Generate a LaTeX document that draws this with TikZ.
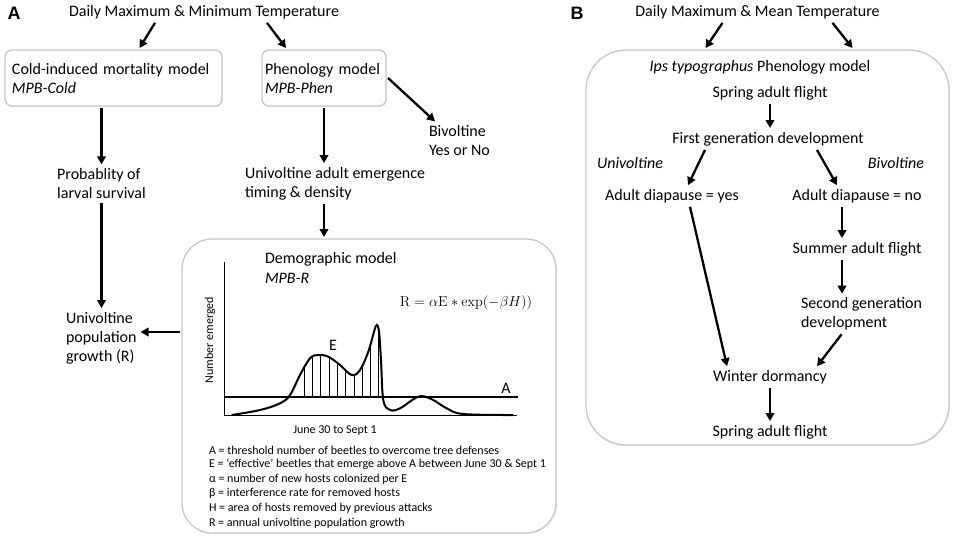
\documentclass[tikz,border=0pt]{standalone}
\usepackage[no-math]{fontspec}
\setmainfont{Carlito}
\newfontfamily\tagfont{Liberation Sans}
\usetikzlibrary{arrows.meta,shadows}

\tikzset{
  arr/.style={line width=2.3pt,-{Triangle[length=8pt,width=8.5pt]}},
  mbox/.style={draw=black!22,line width=1.3pt,fill=white,rounded corners=7pt,
    minimum height=56pt,align=left,outer sep=2pt,
    font=\fontsize{16}{19}\selectfont,
    drop shadow={opacity=0.15,shadow xshift=1pt,shadow yshift=-1pt}},
  txt/.style={inner sep=0pt,outer sep=4pt,font=\fontsize{16}{19}\selectfont},
  legtxt/.style={inner sep=0pt,outer sep=2pt,font=\fontsize{12}{14.6}\selectfont},
  paneltag/.style={inner sep=0pt,font=\tagfont\bfseries\fontsize{18}{18}\selectfont},
}

\begin{document}
\begin{tikzpicture}[x=1pt,y=-1pt]
\useasboundingbox (0,0) rectangle (957,542);

% panel A
\node[paneltag] (tagA) at (14,13) {A};
\node[txt] (tA) at (204,12) {Daily Maximum \& Minimum Temperature};
\node[mbox,minimum width=217pt,text width=203pt] (cold) at (113.5,78) {Cold-induced mortality model\\\textit{MPB-Cold}};
\node[mbox,minimum width=124pt,text width=118pt,inner xsep=3pt] (phen) at (324,78) {Phenology model\\\textit{MPB-Phen}};
\node[txt,anchor=west,align=left] (biv) at (425,140.5) {Bivoltine\\Yes or No};
\node[txt,align=left] (surv) at (101.5,183.5) {Probablity of\\larval survival};
\node[txt,anchor=west,align=left] (emer) at (241,183.5) {Univoltine adult emergence\\timing \& density};
\node[txt,anchor=west,align=left] (growth) at (62,338) {Univoltine\\population\\growth (R)};
\node[mbox,rounded corners=30pt,minimum width=374pt,minimum height=294pt] (demo) at (369,386) {};

\node[txt,anchor=west] (dtitle) at (261,259) {Demographic model};
\node[txt,anchor=west] (dname) at (261,278) {\textit{MPB-R}};
\node[txt,font=\fontsize{15}{18}\selectfont] (rform) at (466,303) {$\mathrm{R}=\alpha\mathrm{E}\ast\exp(-\beta H))$};

% emergence curve
\draw[line width=0.8pt] (224,262) -- (224,415) -- (517,415);
\draw[line width=1.6pt] (224,397) -- (518,397);
\begin{scope}
  \clip plot[smooth,tension=0.6] coordinates {(231.7,415) (260,410) (280,403.3) (290,395) (300,375) (310,358.3) (318.3,355) (328.3,356.7) (340,365) (351.7,375) (360,370) (368.3,351.7) (374,331.7) (376.7,325) (379,331.7) (381,360) (383.3,400) (390,410) (400,408.3) (413.3,399.3) (421.7,396) (433.3,400) (446.7,408.3) (463.3,414) (513.3,415)} -- (513,430) -- (232,430) -- cycle;
  \foreach \x in {304,312.3,...,379}
    \draw[line width=0.5pt] (\x,397) -- (\x,300);
\end{scope}
\draw[line width=2pt] plot[smooth,tension=0.6] coordinates {(231.7,415) (260,410) (280,403.3) (290,395) (300,375) (310,358.3) (318.3,355) (328.3,356.7) (340,365) (351.7,375) (360,370) (368.3,351.7) (374,331.7) (376.7,325) (379,331.7) (381,360) (383.3,400) (390,410) (400,408.3) (413.3,399.3) (421.7,396) (433.3,400) (446.7,408.3) (463.3,414) (513.3,415)};
\node[legtxt,rotate=90] (ylab) at (210,340) {Number emerged};
\node[legtxt] (xlab) at (335,431) {June 30 to Sept 1};
\node[txt] (labE) at (333,345) {E};
\node[txt] (labA) at (506,388) {A};

\foreach \t [count=\i] in {A = threshold number of beetles to overcome tree defenses,
    E = ‘effective’ beetles that emerge above A between June 30 \& Sept 1,
    α = number of new hosts colonized per E,
    β = interference rate for removed hosts,
    H = area of hosts removed by previous attacks,
    R = annual univoltine population growth}
  \node[legtxt,anchor=west] (leg\i) at (207,{435.4+14.6*\i}) {\t};

\draw[arr] ([xshift=-49pt]tA.south) -- ([xshift=26pt]cold.north);
\draw[arr] ([xshift=63pt]tA.south) -- ([xshift=-38pt]phen.north);
\draw[arr] (phen.east) -- ([xshift=10pt]biv.north west);
\draw[arr] (cold.south -| surv.north) -- (surv.north);
\draw[arr] (phen.south) -- (phen.south |- emer.north);
\draw[arr] (surv.south) -- (surv.south |- growth.north);
\draw[arr] (emer.south -| phen.south) -- (demo.north -| phen.south);
\draw[arr] ([yshift=6pt]growth.east -| demo.west) -- ([yshift=6pt]growth.east);

% panel B
\node[paneltag] (tagB) at (577,13) {B};
\node[txt] (tB) at (757.5,12) {Daily Maximum \& Mean Temperature};
\node[mbox,rounded corners=40pt,minimum width=363pt,minimum height=395pt] (ips) at (767.5,247.5) {};
\node[txt] (ptitle) at (760,67) {\textit{Ips typographus} Phenology model};
\node[txt] (spr1) at (770,93) {Spring adult flight};
\node[txt] (gen1) at (768,139) {First generation development};
\node[txt,anchor=west] (uni) at (593,163) {\textit{Univoltine}};
\node[txt,anchor=east] (bi) at (928,163) {\textit{Bivoltine}};
\node[txt] (dyes) at (672,196) {Adult diapause = yes};
\node[txt] (dno) at (857,196) {Adult diapause = no};
\node[txt] (summ) at (857,249) {Summer adult flight};
\node[txt,anchor=west,align=left] (gen2) at (797,314) {Second generation\\development};
\node[txt] (wint) at (770,377) {Winter dormancy};
\node[txt] (spr2) at (770,432) {Spring adult flight};

\draw[arr] ([xshift=-35pt]tB.south) -- ([xshift=-62pt]ips.north);
\draw[arr] ([xshift=75pt]tB.south) -- ([xshift=85pt]ips.north);
\draw[arr] (spr1.south) -- (spr1.south |- gen1.north);
\draw[arr] ([xshift=-63pt]gen1.south) -- ([xshift=16pt]dyes.north);
\draw[arr] ([xshift=49pt]gen1.south) -- ([xshift=-20pt]dno.north);
\draw[arr] ([xshift=-15pt]dno.south) -- ([xshift=-15pt]summ.north);
\draw[arr] ([xshift=-15pt]summ.south) -- ([xshift=-15pt]summ.south |- gen2.north);
\draw[arr] ([xshift=-20pt]gen2.south) -- ([xshift=47pt]wint.north);
\draw[arr] ([xshift=18pt]dyes.south) -- ([xshift=-43pt]wint.north);
\draw[arr] (wint.south) -- (spr2.north);
\end{tikzpicture}
\end{document}
